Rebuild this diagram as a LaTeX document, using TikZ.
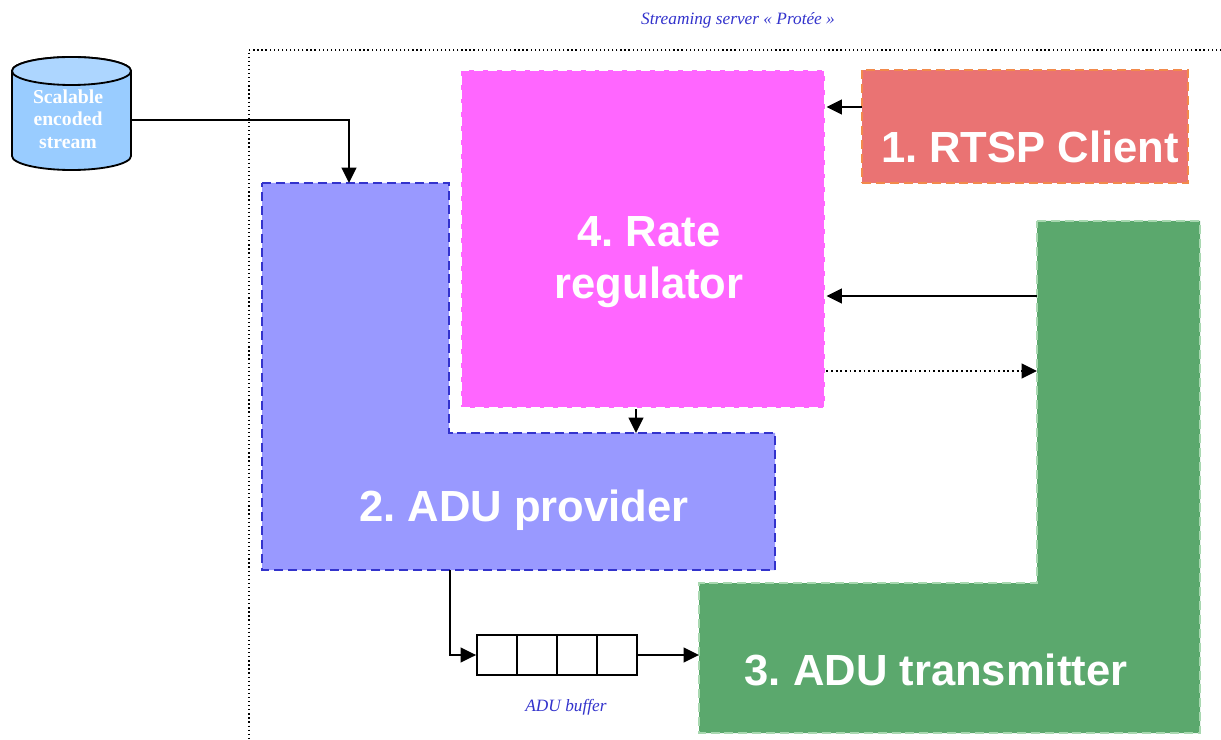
\documentclass[tikz,border=0pt]{standalone}
\usepackage{fontspec}
\setmainfont{Liberation Serif}
\setsansfont{Liberation Sans}
\usetikzlibrary{arrows.meta}
\frenchspacing

\definecolor{notecol}{HTML}{3333CC}
\definecolor{streamfill}{HTML}{99CCFF}
\definecolor{streamtop}{HTML}{ADD6FF}
\definecolor{ratefill}{HTML}{FF66FF}
\definecolor{rtspfill}{HTML}{EA7373}
\definecolor{rtspline}{HTML}{F28A4B}
\definecolor{provfill}{HTML}{9999FF}
\definecolor{provline}{HTML}{3333CC}
\definecolor{transfill}{HTML}{5BA86D}
\definecolor{transline}{HTML}{A8D8B0}

\begin{document}
\begin{tikzpicture}[x=0.025cm, y=0.025cm]
    \tikzstyle{arr}=[-{Triangle[length=11pt,width=10.5pt]}, line width=1.3pt]
    \tikzstyle{box}=[rectangle, inner sep=0pt, line width=2pt, dash pattern=on 6.4pt off 3.5pt]
    \tikzstyle{big}=[text=white, font=\sffamily\bfseries\fontsize{31}{37}\selectfont, align=center]
    \tikzstyle{note}=[text=notecol, font=\itshape\fontsize{12.3}{14}\selectfont]
    \tikzstyle{cell}=[rectangle, draw, line width=1.3pt, minimum width=1cm, minimum height=1cm, inner sep=0pt]

    \useasboundingbox (0,0) rectangle (1221,-740);

    % server frame
    \node[note] (title) at (738,-20) {Streaming server « Protée »};
    \draw[dotted, line width=0.9pt] (1221,-50) -- (249,-50) -- (249,-740);

    % scalable stream
    \filldraw[fill=streamfill, line width=1.3pt] (12,-71) -- (12,-156) arc (180:360:59.5 and 14)
        -- (131,-71) arc (0:180:59.5 and 14) -- cycle;
    \filldraw[fill=streamtop, line width=1.3pt] (71.5,-71) ellipse (59.5 and 14);
    \node[text=white, font=\bfseries\fontsize{14}{16}\selectfont, align=center] (stream) at (68,-119)
        {Scalable\\encoded\\stream};
    \coordinate (stream out) at (131,-120);

    % the four blocks
    \node[box, draw=white, fill=ratefill, minimum width=9.1cm, minimum height=8.45cm] (rate) at (643,-239) {};
    \node[box, draw=rtspline, fill=rtspfill, minimum width=8.15cm, minimum height=2.825cm] (rtsp) at (1025,-126.5) {};
    \filldraw[box, draw=provline, fill=provfill] (262,-183) -- (449,-183) -- (449,-433) -- (775,-433)
        -- (775,-570) -- (262,-570) -- cycle;
    \filldraw[box, draw=transline, fill=transfill] (1037,-221) -- (1200,-221) -- (1200,-733) -- (699,-733)
        -- (699,-583) -- (1037,-583) -- cycle;

    \node[big] (rate txt) at (649,-262) {4. Rate\\regulator};
    \node[big] (rtsp txt) at (1030,-147) {1. RTSP Client};
    \node[big] (prov txt) at (524,-510) {2. ADU provider};
    \node[big] (trans txt) at (936,-670) {3. ADU transmitter};

    \coordinate (prov in) at (349,-183);
    \coordinate (prov top) at (636,-433);
    \coordinate (prov out) at (450,-570);
    \coordinate (rtsp out) at (862,-107);
    \coordinate (trans fb) at (1037,-296);
    \coordinate (trans ctl) at (1037,-371);
    \coordinate (trans in) at (699,-655);

    % ADU buffer
    \foreach \i in {1,...,4}
        \node[cell] (buf\i) at (457+40*\i,-655) {};
    \node[note] (buf txt) at (566,-707) {ADU buffer};

    % connectors
    \draw[arr] (stream out) -| (prov in);
    \draw[arr] (rtsp out) -- (rtsp out -| rate.east);
    \draw[arr] (trans fb) -- (trans fb -| rate.east);
    \draw[arr, dotted] (trans ctl -| rate.east) -- (trans ctl);
    \draw[arr] (prov top |- rate.south) -- (prov top);
    \draw[arr] (prov out) |- (buf1.west);
    \draw[arr] (buf4.east) -- (trans in);
\end{tikzpicture}
\end{document}
